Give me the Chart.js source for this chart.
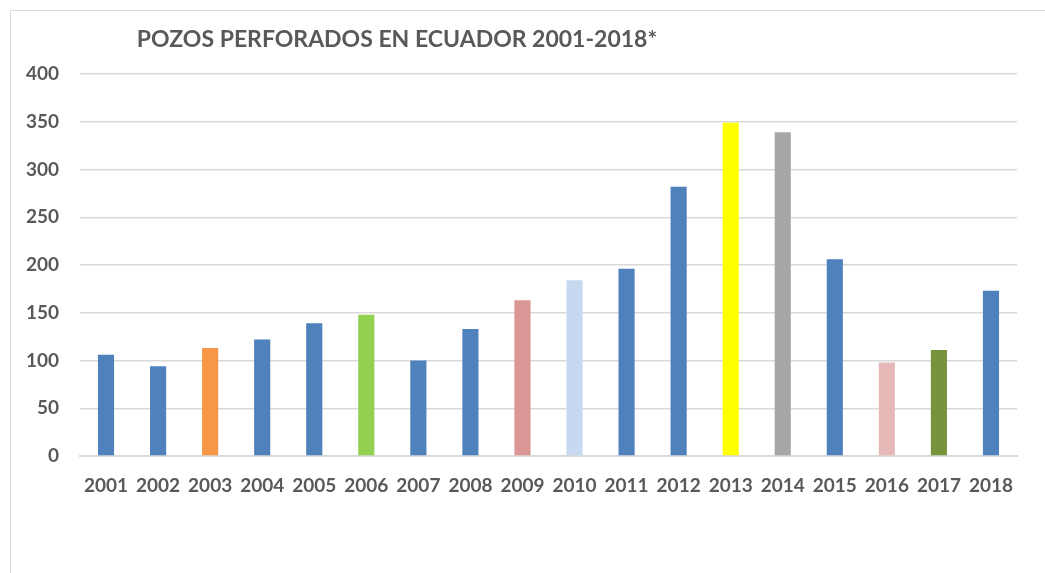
<!DOCTYPE html>
<html>
<head>
<meta charset="utf-8">
<script src="https://cdn.jsdelivr.net/npm/chart.js@4"></script>
<style>
  html, body { margin: 0; padding: 0; background: #fff; }
  #wrap { position: relative; width: 1045px; height: 573px; overflow: hidden; }
  #frame { position: absolute; left: 10px; top: 10px; right: -5px; bottom: -5px;
           border-top: 1.5px solid #d9d9d9; border-left: 1.5px solid #d9d9d9; }
  canvas { position: absolute; left: 0; top: 0; }
</style>
</head>
<body>
<div id="wrap">
  <div id="frame"></div>
  <canvas id="grafica" width="1045" height="573"></canvas>
</div>
<script>
// datos
const anios = ['2001','2002','2003','2004','2005','2006','2007','2008','2009','2010','2011','2012','2013','2014','2015','2016','2017','2018'];
const pozos = [106, 94, 113, 122, 139, 148, 100, 133, 163, 184, 196, 282, 349, 339, 206, 98, 111, 173];
const colores = ['#4f81bd','#4f81bd','#f79646','#4f81bd','#4f81bd','#92d050','#4f81bd','#4f81bd','#da9694','#c6d9f1',
                 '#4f81bd','#4f81bd','#ffff00','#a6a6a6','#4f81bd','#e6b9b8','#77933c','#4f81bd'];
const titulo = 'POZOS PERFORADOS EN ECUADOR 2001-2018*';

const gris = '#595959';
const fuente = 'Lato, "Open Sans", sans-serif';

// titulo desplazado a la izquierda como en el original
const tituloPlugin = {
  id: 'tituloIzq',
  afterDraw(chart) {
    const ctx = chart.ctx;
    ctx.save();
    ctx.font = 'bold 23px ' + fuente;
    ctx.fillStyle = gris;
    ctx.textAlign = 'center';
    ctx.textBaseline = 'middle';
    ctx.fillText(titulo, 397, 40);
    ctx.restore();
  }
};

const ctx = document.getElementById('grafica').getContext('2d');
new Chart(ctx, {
  type: 'bar',
  data: {
    labels: anios,
    datasets: [{
      label: 'Pozos',
      data: pozos,
      backgroundColor: colores,
      borderWidth: 0,
      barPercentage: 0.31,
      categoryPercentage: 1
    }]
  },
  options: {
    responsive: false,
    animation: false,
    layout: { padding: { left: 0, right: 28, top: 74, bottom: 0 } },
    plugins: {
      legend: { display: false },
      title: { display: false },
      tooltip: { enabled: false }
    },
    scales: {
      x: {
        grid: { display: false, drawTicks: false },
        border: { color: '#d9d9d9', width: 2 },
        ticks: { color: gris, font: { family: fuente, size: 19, weight: 'bold' }, padding: 18, maxRotation: 0, autoSkip: false },
        afterFit(scale) { scale.height = 117; }
      },
      y: {
        min: 0,
        max: 400,
        ticks: { stepSize: 50, color: gris, font: { family: fuente, size: 19, weight: 'bold' }, padding: 21 },
        grid: { color: '#d9d9d9', lineWidth: 1.5, drawTicks: false },
        border: { display: false },
        afterFit(scale) { scale.width = 80; }
      }
    }
  },
  plugins: [tituloPlugin]
});
</script>
</body>
</html>
